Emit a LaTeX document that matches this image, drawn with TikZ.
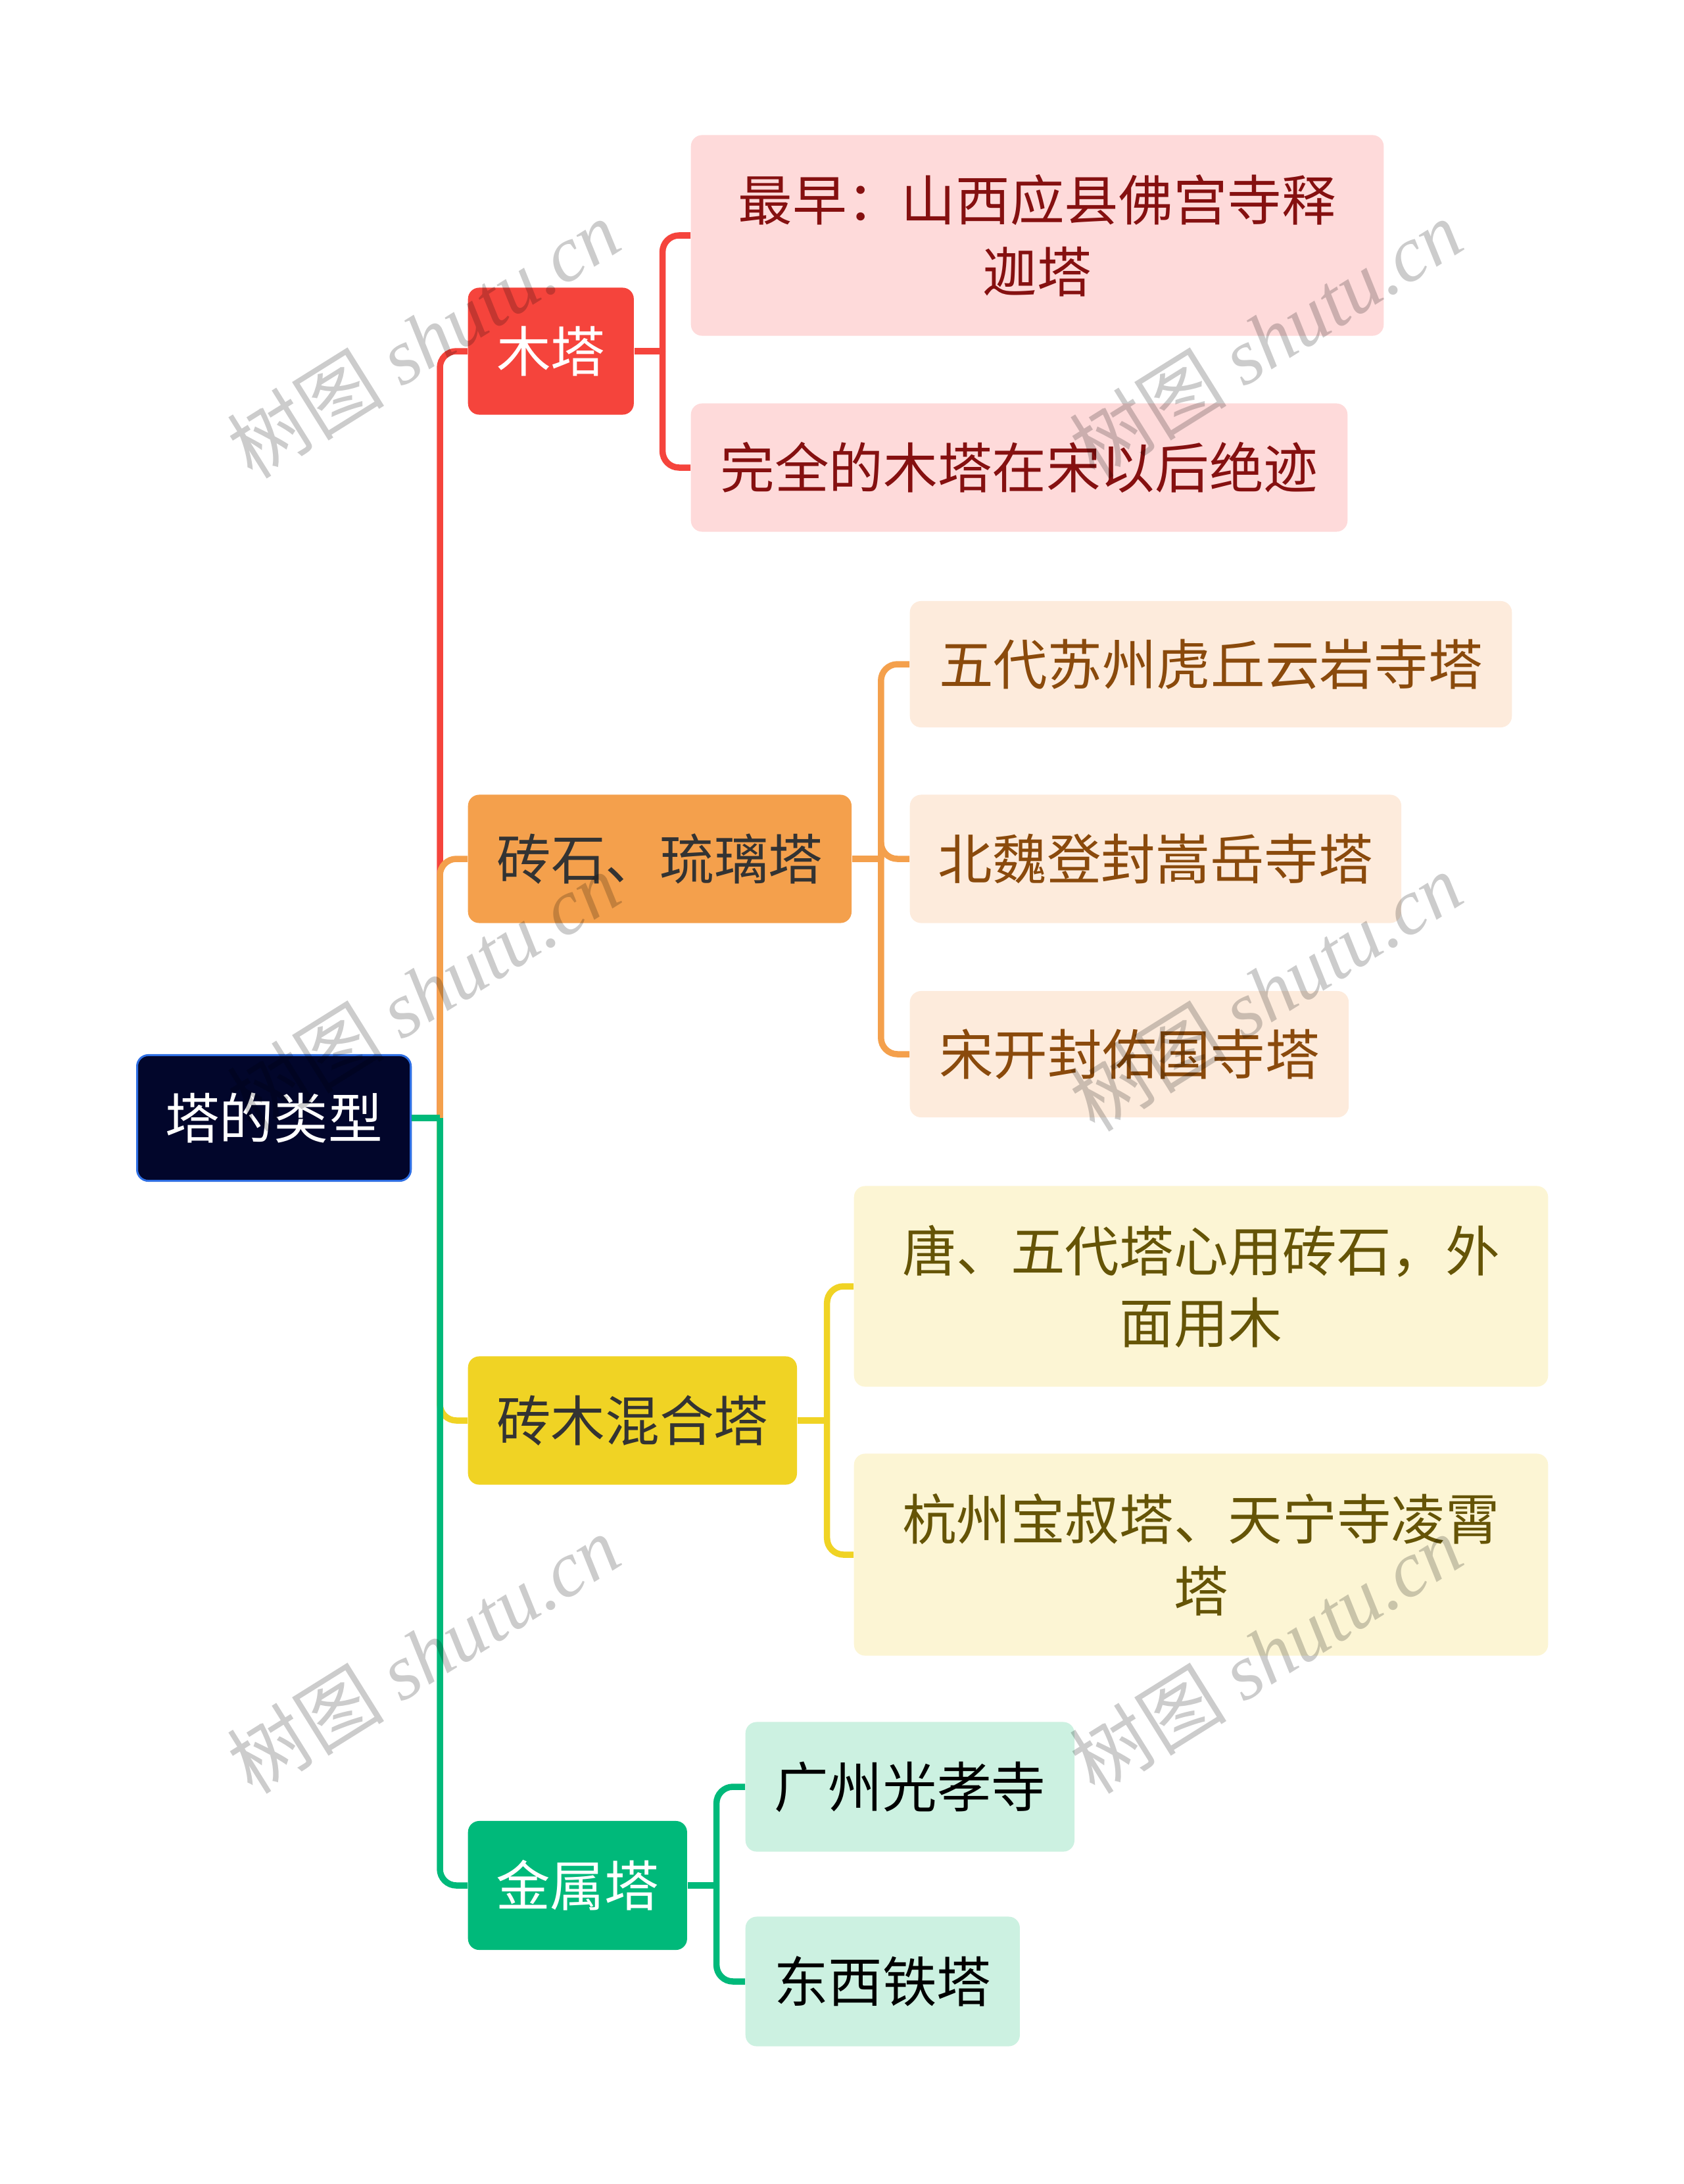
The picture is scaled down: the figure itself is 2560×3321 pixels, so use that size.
\documentclass[tikz,border=0pt]{standalone}
\usepackage{fontspec}
\setmainfont{Noto Sans CJK SC}
\newfontfamily\MarkFont{Liberation Serif}
\usetikzlibrary{positioning}
\definecolor{InkNavy}{HTML}{02062B}
\definecolor{RootBlue}{HTML}{2F6FE3}
\definecolor{BrickRed}{HTML}{F5443C}
\definecolor{BlushPink}{HTML}{FEDADA}
\definecolor{WineText}{HTML}{851010}
\definecolor{AmberGlow}{HTML}{F4A04C}
\definecolor{PeachCream}{HTML}{FDEBDC}
\definecolor{RustText}{HTML}{8A4A0C}
\definecolor{SunYellow}{HTML}{F0D324}
\definecolor{ButterCream}{HTML}{FCF5D4}
\definecolor{OliveText}{HTML}{655406}
\definecolor{JadeGreen}{HTML}{00B97A}
\definecolor{MintMist}{HTML}{CCF1E1}
\definecolor{CharText}{HTML}{333333}
\newcommand{\NodeFont}{\fontsize{23.5pt}{31pt}\selectfont}
\newcommand{\MarkSize}{\fontsize{34pt}{34pt}\selectfont}
\tikzset{
  box/.style={rounded corners=0.17cm, anchor=west, inner sep=0pt, align=center, font=\NodeFont},
  size/.style 2 args={minimum width=#1, minimum height=#2},
  link/.style={line width=0.095cm, rounded corners=0.25cm},
  wmark/.style={rotate=32, text=black, text opacity=0.2, font=\MarkSize}
}

\begin{document}
\begin{tikzpicture}[x=0.01cm, y=-0.01cm]
  \useasboundingbox (0,0) rectangle (2560,3321);
  % root and main branches
  \node[box, fill=InkNavy, draw=RootBlue, line width=0.03cm, text=white, size={4.16cm}{1.91cm}] (root) at (207,1700) {塔的类型};
  \node[box, fill=BrickRed, text=white, size={2.52cm}{1.93cm}] (mu) at (711,534) {木塔};
  \node[box, fill=AmberGlow, text=CharText, size={5.83cm}{1.95cm}] (zs) at (711,1306) {砖石、琉璃塔};
  \node[box, fill=SunYellow, text=CharText, size={5.00cm}{1.95cm}] (hh) at (711,2160) {砖木混合塔};
  \node[box, fill=JadeGreen, text=white, size={3.33cm}{1.96cm}] (js) at (711,2867) {金属塔};
  \coordinate (hub) at (669,1700);
  \draw[link, BrickRed] (hub) |- (mu.west);
  \draw[link, AmberGlow] (hub) |- (zs.west);
  \draw[link, SunYellow] (hub) |- (hh.west);
  \draw[link, JadeGreen] (hub) |- (js.west);
  \draw[link, JadeGreen] (root.east) -- (hub);

  % wooden
  \node[box, fill=BlushPink, text=WineText, size={10.53cm}{3.05cm}] (mu1) at (1050,358) {最早：山西应县佛宫寺释\\迦塔};
  \node[box, fill=BlushPink, text=WineText, size={9.98cm}{1.95cm}] (mu2) at (1050,711) {完全的木塔在宋以后绝迹};
  \coordinate (mubar) at ([xshift=0.43cm]mu.east);
  \draw[link, BrickRed] (mu.east) -- (mubar);
  \foreach \c in {mu1,mu2} \draw[link, BrickRed] (mubar) |- (\c.west);

  % brick and glazed
  \node[box, fill=PeachCream, text=RustText, size={9.15cm}{1.92cm}] (zs1) at (1383,1010) {五代苏州虎丘云岩寺塔};
  \node[box, fill=PeachCream, text=RustText, size={7.47cm}{1.95cm}] (zs2) at (1383,1306) {北魏登封嵩岳寺塔};
  \node[box, fill=PeachCream, text=RustText, size={6.67cm}{1.92cm}] (zs3) at (1383,1603) {宋开封佑国寺塔};
  \coordinate (zsbar) at ([xshift=0.44cm]zs.east);
  \draw[link, AmberGlow] (zs.east) -- (zsbar);
  \foreach \c in {zs1,zs2,zs3} \draw[link, AmberGlow] (zsbar) |- (\c.west);

  % mixed
  \node[box, fill=ButterCream, text=OliveText, size={10.55cm}{3.05cm}] (hh1) at (1298,1956) {唐、五代塔心用砖石，外\\面用木};
  \node[box, fill=ButterCream, text=OliveText, size={10.55cm}{3.07cm}] (hh2) at (1298,2364) {杭州宝叔塔、天宁寺凌霄\\塔};
  \coordinate (hhbar) at ([xshift=0.45cm]hh.east);
  \draw[link, SunYellow] (hh.east) -- (hhbar);
  \foreach \c in {hh1,hh2} \draw[link, SunYellow] (hhbar) |- (\c.west);

  % metal
  \node[box, fill=MintMist, text=black, size={5.00cm}{1.97cm}] (js1) at (1133,2717) {广州光孝寺};
  \node[box, fill=MintMist, text=black, size={4.17cm}{1.97cm}] (js2) at (1133,3013) {东西铁塔};
  \coordinate (jsbar) at ([xshift=0.44cm]js.east);
  \draw[link, JadeGreen] (js.east) -- (jsbar);
  \foreach \c in {js1,js2} \draw[link, JadeGreen] (jsbar) |- (\c.west);

  % watermarks
  \foreach \p [count=\i] in {(644,515),(1925,515),(644,1508),(1925,1508),(644,2515),(1925,2515)}
    \node[wmark] (wm\i) at \p {树图 {\MarkFont\itshape shutu.cn}};
\end{tikzpicture}
\end{document}
